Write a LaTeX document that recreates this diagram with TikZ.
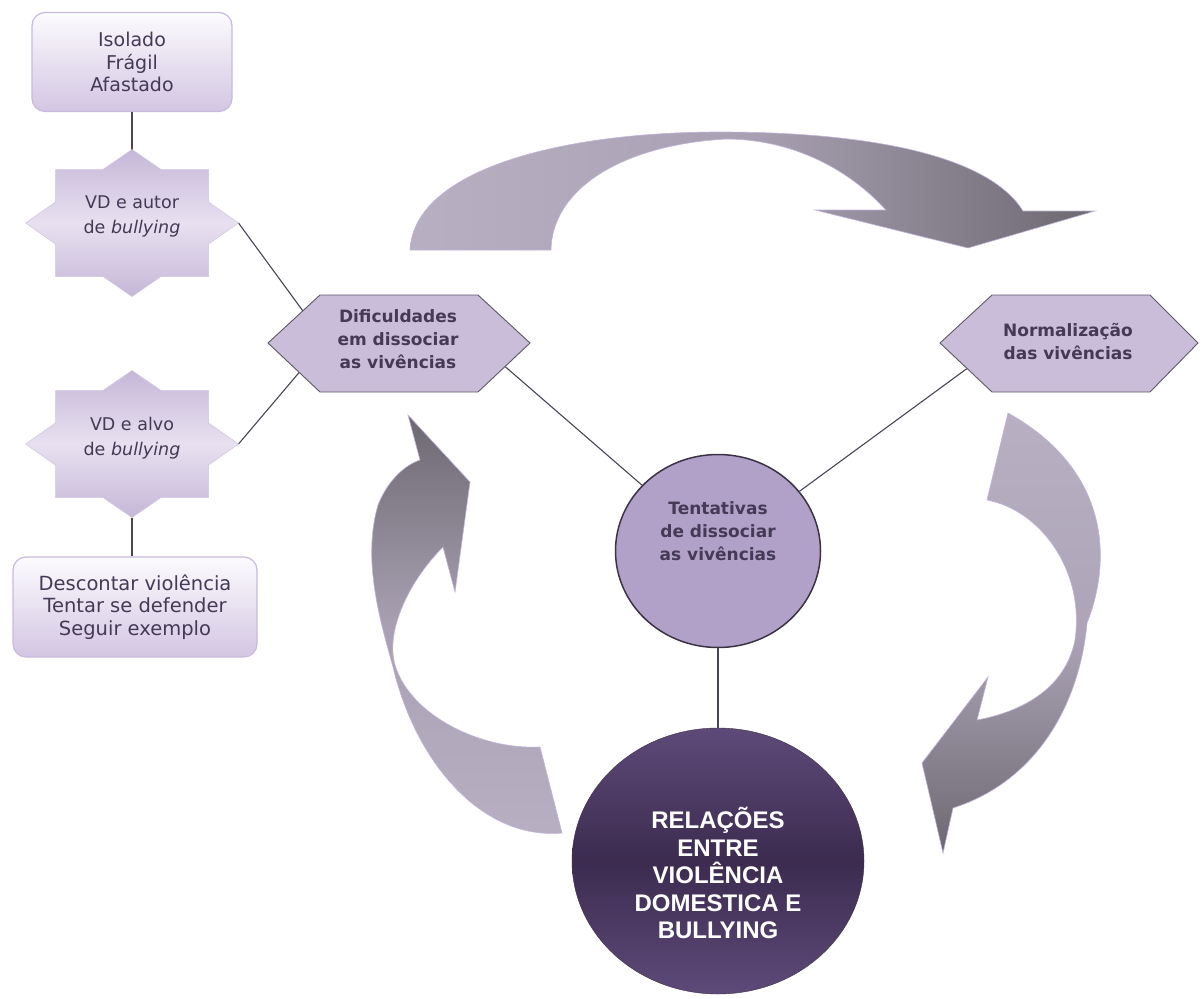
\documentclass[tikz,border=0pt]{standalone}
\usepackage{fontspec}
\setmainfont{DejaVu Sans}
\newfontfamily\libfont{Liberation Sans}
\usetikzlibrary{calc,shapes.geometric}
\definecolor{txt}{HTML}{453A55}
\definecolor{linec}{HTML}{4A4453}
\definecolor{boxtop}{HTML}{FCFBFE}
\definecolor{boxbot}{HTML}{D3C6E3}
\definecolor{boxborder}{HTML}{C9BADD}
\definecolor{starA}{HTML}{C5B7D8}
\definecolor{starB}{HTML}{E8E1F0}
\definecolor{hexfill}{HTML}{C9BDDA}
\definecolor{hexborder}{HTML}{5F5868}
\definecolor{cfill}{HTML}{B1A1C9}
\definecolor{cborder}{HTML}{3B3244}
\definecolor{bigA}{HTML}{5E4A79}
\definecolor{bigB}{HTML}{3C2B4F}
\definecolor{arrl}{HTML}{B8AFC3}
\definecolor{arrd}{HTML}{6C6871}
\definecolor{arrrim}{HTML}{C2B3D8}
\tikzset{
  conn/.style={draw=linec, line width=1.1pt},
  boxnode/.style={rectangle, rounded corners=13pt, draw=boxborder, line width=1.2pt,
    top color=boxtop, bottom color=boxbot, align=center, text=txt, inner sep=0pt},
  startext/.style={align=center, text=txt, font=\fontsize{17.5}{25}\selectfont},
  hextext/.style={align=center, text=txt, font=\bfseries\fontsize{17}{23}\selectfont},
  starshape/.style={top color=starA, bottom color=starA, middle color=starB, draw=starA!80!white, line width=0.5pt},
  hexshape/.style={fill=hexfill, draw=hexborder, line width=0.9pt},
  arrowshape/.style={draw=arrrim, line width=0.6pt},
}
\newcommand\starpoly{(0,-73.5) -- (29,-53.5) -- (76.5,-53.5) -- (76.5,-21) -- (106.5,0) -- (76.5,21) -- (76.5,53.5) -- (29,53.5) -- (0,73.5) -- (-29,53.5) -- (-76.5,53.5) -- (-76.5,21) -- (-106.5,0) -- (-76.5,-21) -- (-76.5,-53.5) -- (-29,-53.5) -- cycle}
\begin{document}
\begin{tikzpicture}[x=1pt,y=-1pt]
\useasboundingbox (0,0) rectangle (1204,998);
\fill[white] (0,0) rectangle (1204,998);

% ---- big curved arrows ----
\shade[arrowshape, left color=arrl, right color=arrd, middle color=arrl!80!arrd]
  (410,250) .. controls (414,170) and (560,132) .. (720,132)
  .. controls (850,132) and (985,150) .. (1023,211)
  -- (1095,211) -- (968,248) -- (815,210) -- (886,210)
  .. controls (840,160) and (780,139) .. (726,139)
  .. controls (620,145) and (552,190) .. (551,250) -- cycle;

\shade[arrowshape, top color=arrd, bottom color=arrl, middle color=arrl!80!arrd]
  (408,415) -- (470,482) -- (455,592) -- (443,547)
  .. controls (410,580) and (385,630) .. (395,665)
  .. controls (410,715) and (480,750) .. (540,747)
  -- (562,833)
  .. controls (480,840) and (415,760) .. (393,667)
  .. controls (380,620) and (362,560) .. (378,505)
  .. controls (388,480) and (405,465) .. (420,460) -- cycle;

\shade[arrowshape, top color=arrl, bottom color=arrd, middle color=arrl!85!arrd]
  (1008,413) -- (987,500)
  .. controls (1040,510) and (1085,570) .. (1075,640)
  .. controls (1065,690) and (1020,712) .. (977,720)
  -- (988,677) -- (922,763) -- (943,853) -- (953,808)
  .. controls (1040,780) and (1080,700) .. (1087,623)
  .. controls (1112,560) and (1110,470) .. (1008,413) -- cycle;

% ---- shape geometry ----
\coordinate (h1L) at (268,343);
\coordinate (h1TL) at (320,295);
\coordinate (h1TR) at (478,295);
\coordinate (h1R) at (530,343);
\coordinate (h1BR) at (478,392);
\coordinate (h1BL) at (320,392);
\coordinate (h2L) at (940,343);
\coordinate (h2TL) at (992,295);
\coordinate (h2TR) at (1150,295);
\coordinate (h2R) at (1198,343);
\coordinate (h2BR) at (1150,392);
\coordinate (h2BL) at (992,392);
\coordinate (h1ul) at ($(h1L)!0.67!(h1TL)$);
\coordinate (h1ll) at ($(h1L)!0.6!(h1BL)$);
\coordinate (h1lr) at ($(h1R)!0.48!(h1BR)$);
\coordinate (h2ll) at ($(h2L)!0.52!(h2BL)$);
\coordinate (s1top) at (132,149.5);
\coordinate (s1right) at (238.5,223);
\coordinate (s2right) at (238.5,444);
\coordinate (s2bot) at (132,517.5);

% ---- nodes (shapes) ----
\node[boxnode, minimum width=200pt, minimum height=99pt, font=\fontsize{19}{22.5}\selectfont] (b1) at (132,62) {Isolado\\Frágil\\Afastado};
\node[boxnode, minimum width=244pt, minimum height=100pt, font=\fontsize{19.5}{22.5}\selectfont] (b2) at (135,607) {Descontar violência\\Tentar se defender\\Seguir exemplo};
\node[ellipse, minimum width=205pt, minimum height=193pt, fill=cfill, draw=cborder, line width=1.5pt, inner sep=0pt] (c1) at (718,551) {};

% ---- connectors ----
\draw[conn] (b1.south -| s1top) -- (s1top);
\draw[conn] (s1right) -- (h1ul);
\draw[conn] (s2right) -- (h1ll);
\draw[conn] (s2bot) -- (s2bot |- b2.north);
\draw[conn] (h1lr) -- (c1);
\draw[conn] (h2ll) -- (c1);

% big circle
\shade[top color=bigA, bottom color=bigA, middle color=bigB, draw=cborder] (718,861) ellipse [x radius=146, y radius=133];
\node[ellipse, minimum width=292pt, minimum height=266pt, inner sep=0pt] (c2) at (718,861) {};
\draw[conn] (c1.south) -- (c2.north);

% stars and hexagons
\shade[starshape, shift={(132,223)}] \starpoly;
\shade[starshape, shift={(132,444)}] \starpoly;
\filldraw[hexshape] (h1L) -- (h1TL) -- (h1TR) -- (h1R) -- (h1BR) -- (h1BL) -- cycle;
\filldraw[hexshape] (h2L) -- (h2TL) -- (h2TR) -- (h2R) -- (h2BR) -- (h2BL) -- cycle;

% ---- texts ----
\node[startext] (s1) at (132,216) {VD e autor\\de \textit{bullying}};
\node[startext] (s2) at (132,438) {VD e alvo\\de \textit{bullying}};
\node[hextext] (h1) at (398,339) {Dificuldades\\em dissociar\\as vivências};
\node[hextext] (h2) at (1068,342) {Normalização\\das vivências};
\node[hextext] (c1t) at (718,531) {Tentativas\\de dissociar\\as vivências};
\node[align=center, text=white, font=\libfont\bfseries\fontsize{24}{27.5}\selectfont] (c2t) at (718,873) {RELAÇÕES\\ENTRE\\VIOLÊNCIA\\DOMESTICA E\\BULLYING};
\end{tikzpicture}
\end{document}
